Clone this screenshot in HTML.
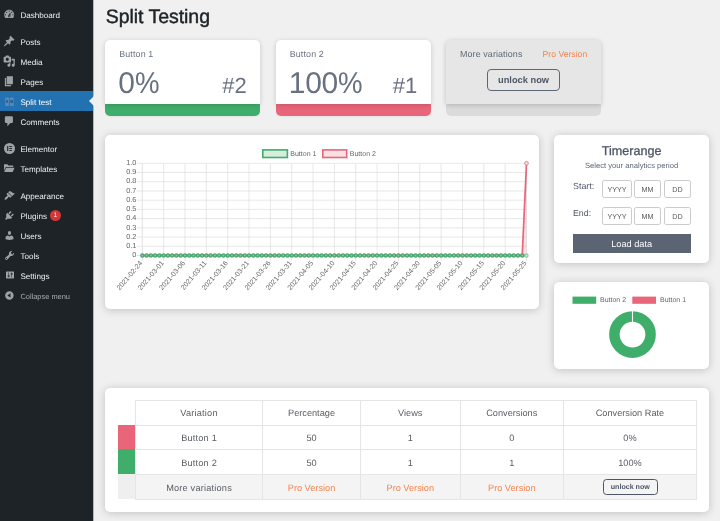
<!DOCTYPE html>
<html lang="en"><head><meta charset="utf-8"><title>Split Testing</title>
<style>
html,body{margin:0;padding:0}
body{width:720px;height:521px;overflow:hidden;background:#f0f0f1;position:relative;font-family:"Liberation Sans",Arial,sans-serif;color:#3c434a;text-rendering:geometricPrecision}
#side{position:absolute;left:0;top:0;width:93px;height:521px;background:#1d2327;border-right:1px solid #b4b5b7}
.mi{position:absolute;left:0;width:93px;height:20px;color:#f0f0f1;font-size:8.1px;line-height:20px;white-space:nowrap}
.mi .ic{position:absolute;left:3.2px;top:3.8px}
.mi .ml{position:absolute;left:20.4px;top:1.8px}
.mi.act{background:#2271b1;color:#fff;top:90.9px!important;height:20.2px}
.mi.act:after{content:"";position:absolute;right:-1px;top:5.2px;border:5px solid transparent;border-right-color:#f0f0f1;border-left-width:0}
.mi.col{color:#a7aaad;font-size:7.45px}
.badge{position:absolute;left:49.8px;top:5px;width:11.2px;height:11.2px;border-radius:50%;background:#d63638;color:#fff;font-size:6.5px;line-height:12.2px;text-align:center}
h1{position:absolute;left:105.7px;top:3.6px;margin:0;font-size:19.5px;line-height:26px;font-weight:400;color:#1d2327;white-space:nowrap;letter-spacing:-0.04px;-webkit-text-stroke:0.45px #1d2327}
.card{position:absolute;background:#fff;border-radius:5px;box-shadow:0 1px 8.5px rgba(0,0,0,.2);overflow:hidden}
.stat{width:154.8px;height:76.2px;top:39.5px;background:none;box-shadow:none;overflow:visible}
.stat .wt{position:absolute;left:0;right:0;top:0;height:64.5px;background:#fff;border-radius:5px 5px 0 0;box-shadow:0 1px 5px rgba(0,0,0,.17)}
.stat .lb{position:absolute;left:13.8px;top:9.3px;font-size:8.9px;line-height:11px;color:#6b7483;letter-spacing:.15px}
.stat .big{position:absolute;left:12.9px;top:26.6px;font-size:30px;line-height:36px;color:#677181;letter-spacing:-0.3px;white-space:nowrap}
.stat .big i{font-style:normal;display:inline-block;transform:scaleX(.92);transform-origin:0 50%;letter-spacing:0}
.stat .rk{position:absolute;right:13.4px;top:33.4px;font-size:22px;line-height:26px;color:#677181;white-space:nowrap}
.stat .bar{position:absolute;left:0;right:0;bottom:0;height:16px;border-radius:0 0 5px 5px;box-shadow:0 1px 2px rgba(0,0,0,.05)}
.tbl{position:absolute;left:117.6px;top:400.3px;border-collapse:collapse;font-size:8.5px;color:#555d66}
</style></head><body>
<div id="side">
<div class="mi" style="top:4.4px"><svg class="ic" style="left:3.20px;top:3.80px" width="12.4" height="12.4" viewBox="0 0 20 20"><path fill="#9ca2a7" fill-rule="evenodd" d="M3.76 16h12.48c1.1-1.37 1.76-3.11 1.76-5 0-4.42-3.58-8-8-8s-8 3.58-8 8c0 1.89.66 3.63 1.76 5zM10 4c.55 0 1 .45 1 1s-.45 1-1 1-1-.45-1-1 .45-1 1-1zM6 6c.55 0 1 .45 1 1s-.45 1-1 1-1-.45-1-1 .45-1 1-1zm8 0c.55 0 1 .45 1 1s-.45 1-1 1-1-.45-1-1 .45-1 1-1zm-5.37 5.55L12 7v6c0 1.1-.9 2-2 2s-2-.9-2-2c0-.57.24-1.08.63-1.45zM4 10c.55 0 1 .45 1 1s-.45 1-1 1-1-.45-1-1 .45-1 1-1zm12 0c.55 0 1 .45 1 1s-.45 1-1 1-1-.45-1-1 .45-1 1-1zm-5 3c0-.55-.45-1-1-1s-1 .45-1 1 .45 1 1 1 1-.45 1-1z"/></svg><span class="ml">Dashboard</span></div>
<div class="mi" style="top:31.3px"><svg class="ic" style="left:3.20px;top:3.80px" width="12.4" height="12.4" viewBox="0 0 20 20"><path fill="#9ca2a7" fill-rule="evenodd" d="M10.44 3.02l1.82-1.82 6.36 6.35-1.83 1.82c-1.05-.68-2.48-.57-3.41.36l-.75.75c-.92.93-1.04 2.35-.35 3.41l-1.83 1.82-2.41-2.41-2.8 2.79c-.42.42-3.38 2.71-3.8 2.29s1.86-3.39 2.28-3.81l2.79-2.79L4.1 9.36l1.83-1.82c1.05.69 2.48.57 3.4-.36l.75-.75c.93-.92 1.05-2.35.36-3.41z"/></svg><span class="ml">Posts</span></div>
<div class="mi" style="top:51.3px"><svg class="ic" style="left:3.20px;top:3.80px" width="12.4" height="12.4" viewBox="0 0 20 20"><path fill="#9ca2a7" fill-rule="evenodd" d="M13 11V4c0-.55-.45-1-1-1h-1.670L9 1H5L3.670 3H2c-.55 0-1 .45-1 1v7c0 .55.45 1 1 1h10c.55 0 1-.45 1-1zM7 4.500c1.380 0 2.500 1.120 2.500 2.500S8.380 9.500 7 9.500 4.500 8.380 4.500 7 5.620 4.500 7 4.500zM14 6h5v10.500c0 1.380-1.120 2.500-2.500 2.500S14 17.880 14 16.500s1.120-2.500 2.500-2.500c.170 0 .340.020.500.050V9h-3V6zm-4 8.050V13h2v3.500c0 1.380-1.120 2.500-2.500 2.500S7 17.880 7 16.500 8.120 14 9.500 14c.170 0 .340.020.500.050z"/></svg><span class="ml">Media</span></div>
<div class="mi" style="top:71.3px"><svg class="ic" style="left:3.20px;top:3.80px" width="12.4" height="12.4" viewBox="0 0 20 20"><path fill="#9ca2a7" fill-rule="evenodd" d="M6 15V2h10v13H6zm-1 1h8v2H3V5h2v11z"/></svg><span class="ml">Pages</span></div>
<div class="mi act" style="top:91.3px"><svg class="ic" width="12.4" height="12.4" viewBox="0 0 20 20"><rect x="3.4" y="3.9" width="6.3" height="13.9" rx="1.2" fill="#5289c1"/><rect x="10.9" y="3.9" width="6.3" height="13.9" rx="1.2" fill="#5289c1"/><text x="6.55" y="13.3" font-size="6.8" font-family="Liberation Sans, sans-serif" font-weight="bold" text-anchor="middle" fill="#1f4a73">A</text><text x="14.05" y="13.3" font-size="6.8" font-family="Liberation Sans, sans-serif" font-weight="bold" text-anchor="middle" fill="#1f4a73">B</text></svg><span class="ml">Split test</span></div>
<div class="mi" style="top:111.3px"><svg class="ic" style="left:3.20px;top:3.80px" width="12.4" height="12.4" viewBox="0 0 20 20"><path fill="#9ca2a7" fill-rule="evenodd" d="M5 2h9c1.100 0 2 .900 2 2v7c0 1.100-.900 2-2 2h-2l-5 5v-5H5c-1.100 0-2-.900-2-2V4c0-1.100.900-2 2-2z"/></svg><span class="ml">Comments</span></div>
<div class="mi" style="top:138.3px"><svg class="ic" style="left:2.90px;top:3.30px" width="13" height="13" viewBox="0 0 20 20"><path fill="#9ca2a7" fill-rule="evenodd" d="M10 1.500a8.500 8.500 0 1 0 0 17 8.500 8.500 0 0 0 0-17zM8.100 13.900H6.400V6.100h1.700v7.800zm5.500 0H9.800v-1.600h3.800v1.600zm0-3.100H9.800V9.200h3.800v1.600zm0-3.100H9.800V6.100h3.800v1.600z"/></svg><span class="ml">Elementor</span></div>
<div class="mi" style="top:158.3px"><svg class="ic" style="left:3.20px;top:3.80px" width="12.4" height="12.4" viewBox="0 0 20 20"><path fill="#9ca2a7" fill-rule="evenodd" d="M1.600 3.500h5.600l1.600 2h7.600v2.700H4.300L1.600 14.500zM5 9.400h13.600l-3 6.600H2z"/></svg><span class="ml">Templates</span></div>
<div class="mi" style="top:185.3px"><svg class="ic" style="left:3.80px;top:4.40px" width="11.2" height="11.2" viewBox="0 0 20 20"><path fill="#9ca2a7" fill-rule="evenodd" d="M14.480 11.060L7.410 3.990l1.500-1.500c.500-.560 2.300-.470 3.510.320 1.210.800 1.430 1.280 2.910 2.100 1.180.640 2.450 1.260 4.450.850zm-.710.710L6.700 4.700 4.930 6.470c-.390.390-.390 1.020 0 1.410l1.060 1.060c.390.390.390 1.030 0 1.420-.600.600-1.430 1.110-2.210 1.690-.350.260-.700.530-1.010.840C1.430 14.230.400 16.080 1.400 17.070c.990 1 2.840-.030 4.180-1.360.310-.310.580-.660.850-1.020.570-.780 1.080-1.610 1.690-2.210.390-.390 1.020-.390 1.410 0l1.060 1.060c.390.390 1.020.390 1.410 0z"/></svg><span class="ml">Appearance</span></div>
<div class="mi" style="top:205.3px"><svg class="ic" style="left:3.90px;top:4.50px" width="11" height="11" viewBox="0 0 20 20"><path fill="#9ca2a7" fill-rule="evenodd" d="M13.110 4.360L9.870 7.600 8 5.730l3.240-3.240c.350-.340 1.050-.200 1.560.320.520.510.660 1.210.310 1.550zm-8 1.770l.910-1.120 9.010 9.010-1.190.840c-.710.710-2.630 1.160-3.820 1.160H6.140L4.900 17.260c-.590.590-1.540.590-2.120 0-.590-.580-.590-1.530 0-2.120L4 13.900V10c0-1.190.440-3.160 1.110-3.870zm7.260 3.970l3.240-3.240c.340-.350 1.040-.210 1.550.310.520.510.660 1.210.310 1.550l-3.240 3.250z"/></svg><span class="ml">Plugins</span><span class="badge">1</span></div>
<div class="mi" style="top:225.3px"><svg class="ic" style="left:3.90px;top:4.50px" width="11" height="11" viewBox="0 0 20 20"><path fill="#9ca2a7" fill-rule="evenodd" d="M10 9.250c-2.270 0-2.730-3.440-2.730-3.440C7 4.020 7.820 2 9.970 2c2.160 0 2.980 2.020 2.710 3.810 0 0-.410 3.440-2.680 3.440zm0 2.570L12.720 10c2.390 0 4.520 2.330 4.520 4.530v2.490s-3.650 1.130-7.240 1.130c-3.650 0-7.240-1.130-7.240-1.130v-2.490c0-2.250 1.940-4.480 4.470-4.480z"/></svg><span class="ml">Users</span></div>
<div class="mi" style="top:245.3px"><svg class="ic" style="left:3.90px;top:4.50px" width="11" height="11" viewBox="0 0 20 20"><path fill="#9ca2a7" fill-rule="evenodd" d="M16.680 9.770c-1.340 1.340-3.300 1.670-4.950.990l-5.410 6.520c-.990.990-2.590.990-3.580 0s-.990-2.590 0-3.570l6.520-5.420c-.680-1.650-.350-3.610.990-4.950 1.280-1.280 3.120-1.620 4.720-1.060l-2.890 2.890 2.820 2.820 2.860-2.870c.530 1.580.180 3.390-1.080 4.650zM3.810 16.210c.400.390 1.040.390 1.430 0 .400-.400.400-1.040 0-1.430-.390-.400-1.030-.400-1.430 0-.390.390-.390 1.030 0 1.430z"/></svg><span class="ml">Tools</span></div>
<div class="mi" style="top:265.3px"><svg class="ic" style="left:4.90px;top:5.00px" width="10" height="10" viewBox="0 0 20 20"><path fill="#9ca2a7" fill-rule="evenodd" d="M18 16V4c0-.550-.450-1-1-1H3c-.550 0-1 .450-1 1v12c0 .550.450 1 1 1h14c.550 0 1-.450 1-1zM8 11h1c.550 0 1 .450 1 1s-.450 1-1 1H8v1.500c0 .280-.220.500-.500.500s-.500-.220-.500-.500V13H6c-.550 0-1-.450-1-1s.450-1 1-1h1V5.500c0-.280.220-.500.500-.500s.500.220.500.500V11zm5-2h-1c-.550 0-1-.450-1-1s.450-1 1-1h1V5.500c0-.280.220-.500.500-.500s.500.220.500.500V7h1c.550 0 1 .450 1 1s-.450 1-1 1h-1v5.500c0 .280-.220.500-.500.500s-.500-.220-.500-.500V9z"/></svg><span class="ml">Settings</span></div>
<div class="mi col" style="top:285.3px"><svg class="ic" style="left:4.00px;top:4.60px" width="10.8" height="10.8" viewBox="0 0 20 20"><path fill="#9ca2a7" fill-rule="evenodd" d="M10 2.160c4.330 0 7.840 3.510 7.840 7.840s-3.510 7.840-7.840 7.840S2.160 14.330 2.160 10 5.670 2.160 10 2.160zm2 11.720V6.120L6.180 9.970z"/></svg><span class="ml">Collapse menu</span></div>
</div>
<h1>Split Testing</h1>

<div class="card stat" style="left:105.4px"><div class="bar" style="background:#3fae6b"></div><div class="wt"></div><div class="lb">Button 1</div><div class="big">0<i>%</i></div><div class="rk">#2</div></div>
<div class="card stat" style="left:275.9px"><div class="bar" style="background:#e8657a"></div><div class="wt"></div><div class="lb">Button 2</div><div class="big">100<i>%</i></div><div class="rk">#1</div></div>

<div class="card" style="left:446px;top:39.5px;width:155px;height:76.2px;background:none;box-shadow:none;overflow:visible">
 <div style="position:absolute;left:0;right:0;bottom:0;height:16px;background:#dbdbdb;border-radius:0 0 5px 5px"></div>
 <div style="position:absolute;left:0;top:0;right:0;height:64.5px;background:#e6e6e6;border-radius:5px 5px 0 0;box-shadow:0 1px 5px rgba(0,0,0,.2)"></div>
 <div style="position:absolute;left:14px;top:9px;font-size:8.9px;line-height:11px;color:#5d6777;letter-spacing:.12px">More variations</div>
 <div style="position:absolute;left:96.6px;top:9px;font-size:8.65px;line-height:11px;color:#f5844f">Pro Version</div>
 <div style="position:absolute;left:41.3px;top:29.2px;width:70.5px;height:20px;border:1px solid #5d6777;border-radius:4px;font-size:9.3px;line-height:20px;font-weight:bold;color:#4d5666;text-align:center">unlock now</div>
</div>

<div class="card" style="left:105px;top:135px;width:434px;height:174px"></div>
<svg class="chart" width="434" height="174" viewBox="105 135 434 174" style="position:absolute;left:105px;top:135px">
<line x1="142.30" y1="163.3" x2="142.30" y2="261.00" stroke="#cccccc" stroke-width="0.6"/><line x1="163.65" y1="163.3" x2="163.65" y2="261.00" stroke="#d9d9d9" stroke-width="0.6"/><line x1="184.99" y1="163.3" x2="184.99" y2="261.00" stroke="#d9d9d9" stroke-width="0.6"/><line x1="206.34" y1="163.3" x2="206.34" y2="261.00" stroke="#d9d9d9" stroke-width="0.6"/><line x1="227.68" y1="163.3" x2="227.68" y2="261.00" stroke="#d9d9d9" stroke-width="0.6"/><line x1="249.03" y1="163.3" x2="249.03" y2="261.00" stroke="#d9d9d9" stroke-width="0.6"/><line x1="270.37" y1="163.3" x2="270.37" y2="261.00" stroke="#d9d9d9" stroke-width="0.6"/><line x1="291.72" y1="163.3" x2="291.72" y2="261.00" stroke="#d9d9d9" stroke-width="0.6"/><line x1="313.06" y1="163.3" x2="313.06" y2="261.00" stroke="#d9d9d9" stroke-width="0.6"/><line x1="334.40" y1="163.3" x2="334.40" y2="261.00" stroke="#d9d9d9" stroke-width="0.6"/><line x1="355.75" y1="163.3" x2="355.75" y2="261.00" stroke="#d9d9d9" stroke-width="0.6"/><line x1="377.10" y1="163.3" x2="377.10" y2="261.00" stroke="#d9d9d9" stroke-width="0.6"/><line x1="398.44" y1="163.3" x2="398.44" y2="261.00" stroke="#d9d9d9" stroke-width="0.6"/><line x1="419.79" y1="163.3" x2="419.79" y2="261.00" stroke="#d9d9d9" stroke-width="0.6"/><line x1="441.13" y1="163.3" x2="441.13" y2="261.00" stroke="#d9d9d9" stroke-width="0.6"/><line x1="462.47" y1="163.3" x2="462.47" y2="261.00" stroke="#d9d9d9" stroke-width="0.6"/><line x1="483.82" y1="163.3" x2="483.82" y2="261.00" stroke="#d9d9d9" stroke-width="0.6"/><line x1="505.17" y1="163.3" x2="505.17" y2="261.00" stroke="#d9d9d9" stroke-width="0.6"/><line x1="526.51" y1="163.3" x2="526.51" y2="261.00" stroke="#d9d9d9" stroke-width="0.6"/><line x1="136.80" y1="255.50" x2="526.51" y2="255.50" stroke="#cccccc" stroke-width="0.6"/><line x1="136.80" y1="246.28" x2="526.51" y2="246.28" stroke="#d9d9d9" stroke-width="0.6"/><line x1="136.80" y1="237.06" x2="526.51" y2="237.06" stroke="#d9d9d9" stroke-width="0.6"/><line x1="136.80" y1="227.84" x2="526.51" y2="227.84" stroke="#d9d9d9" stroke-width="0.6"/><line x1="136.80" y1="218.62" x2="526.51" y2="218.62" stroke="#d9d9d9" stroke-width="0.6"/><line x1="136.80" y1="209.40" x2="526.51" y2="209.40" stroke="#d9d9d9" stroke-width="0.6"/><line x1="136.80" y1="200.18" x2="526.51" y2="200.18" stroke="#d9d9d9" stroke-width="0.6"/><line x1="136.80" y1="190.96" x2="526.51" y2="190.96" stroke="#d9d9d9" stroke-width="0.6"/><line x1="136.80" y1="181.74" x2="526.51" y2="181.74" stroke="#d9d9d9" stroke-width="0.6"/><line x1="136.80" y1="172.52" x2="526.51" y2="172.52" stroke="#d9d9d9" stroke-width="0.6"/><line x1="136.80" y1="163.30" x2="526.51" y2="163.30" stroke="#d9d9d9" stroke-width="0.6"/>
<g font-size="7.3" fill="#666" font-family="Liberation Sans, Arial, sans-serif"><text x="136.4" y="257.20" text-anchor="end">0</text><text x="136.4" y="247.98" text-anchor="end">0.1</text><text x="136.4" y="238.76" text-anchor="end">0.2</text><text x="136.4" y="229.54" text-anchor="end">0.3</text><text x="136.4" y="220.32" text-anchor="end">0.4</text><text x="136.4" y="211.10" text-anchor="end">0.5</text><text x="136.4" y="201.88" text-anchor="end">0.6</text><text x="136.4" y="192.66" text-anchor="end">0.7</text><text x="136.4" y="183.44" text-anchor="end">0.8</text><text x="136.4" y="174.22" text-anchor="end">0.9</text><text x="136.4" y="165.00" text-anchor="end">1.0</text></g>
<g font-size="7.0" fill="#666" font-family="Liberation Sans, Arial, sans-serif"><text transform="translate(141.00,261.70) rotate(-49.5)" text-anchor="end" y="2.5">2021-02-24</text><text transform="translate(162.34,261.70) rotate(-49.5)" text-anchor="end" y="2.5">2021-03-01</text><text transform="translate(183.69,261.70) rotate(-49.5)" text-anchor="end" y="2.5">2021-03-06</text><text transform="translate(205.03,261.70) rotate(-49.5)" text-anchor="end" y="2.5">2021-03-11</text><text transform="translate(226.38,261.70) rotate(-49.5)" text-anchor="end" y="2.5">2021-03-16</text><text transform="translate(247.72,261.70) rotate(-49.5)" text-anchor="end" y="2.5">2021-03-21</text><text transform="translate(269.07,261.70) rotate(-49.5)" text-anchor="end" y="2.5">2021-03-26</text><text transform="translate(290.42,261.70) rotate(-49.5)" text-anchor="end" y="2.5">2021-03-31</text><text transform="translate(311.76,261.70) rotate(-49.5)" text-anchor="end" y="2.5">2021-04-05</text><text transform="translate(333.10,261.70) rotate(-49.5)" text-anchor="end" y="2.5">2021-04-10</text><text transform="translate(354.45,261.70) rotate(-49.5)" text-anchor="end" y="2.5">2021-04-15</text><text transform="translate(375.80,261.70) rotate(-49.5)" text-anchor="end" y="2.5">2021-04-20</text><text transform="translate(397.14,261.70) rotate(-49.5)" text-anchor="end" y="2.5">2021-04-25</text><text transform="translate(418.49,261.70) rotate(-49.5)" text-anchor="end" y="2.5">2021-04-30</text><text transform="translate(439.83,261.70) rotate(-49.5)" text-anchor="end" y="2.5">2021-05-05</text><text transform="translate(461.17,261.70) rotate(-49.5)" text-anchor="end" y="2.5">2021-05-10</text><text transform="translate(482.52,261.70) rotate(-49.5)" text-anchor="end" y="2.5">2021-05-15</text><text transform="translate(503.87,261.70) rotate(-49.5)" text-anchor="end" y="2.5">2021-05-20</text><text transform="translate(525.21,261.70) rotate(-49.5)" text-anchor="end" y="2.5">2021-05-25</text></g>
<path d="M142.30 255.5 L522.24 255.5 L526.51 163.3 L526.51 255.5 Z" fill="rgba(232,103,122,0.2)"/>
<path d="M142.30 255.5 L522.24 255.5 L526.51 163.3" fill="none" stroke="#e8657a" stroke-width="1.7" stroke-linejoin="round"/>
<circle cx="526.51" cy="163.3" r="1.9" fill="#f7d5da" stroke="#e8657a" stroke-width="0.7"/>
<path d="M142.30 255.5 L526.51 255.5" fill="none" stroke="#45a76e" stroke-width="2.0"/>
<g fill="#9fb8a9" stroke="#45a76e" stroke-width="1.15"><circle cx="142.30" cy="255.5" r="1.6"/><circle cx="146.57" cy="255.5" r="1.6"/><circle cx="150.84" cy="255.5" r="1.6"/><circle cx="155.11" cy="255.5" r="1.6"/><circle cx="159.38" cy="255.5" r="1.6"/><circle cx="163.65" cy="255.5" r="1.6"/><circle cx="167.91" cy="255.5" r="1.6"/><circle cx="172.18" cy="255.5" r="1.6"/><circle cx="176.45" cy="255.5" r="1.6"/><circle cx="180.72" cy="255.5" r="1.6"/><circle cx="184.99" cy="255.5" r="1.6"/><circle cx="189.26" cy="255.5" r="1.6"/><circle cx="193.53" cy="255.5" r="1.6"/><circle cx="197.80" cy="255.5" r="1.6"/><circle cx="202.07" cy="255.5" r="1.6"/><circle cx="206.34" cy="255.5" r="1.6"/><circle cx="210.60" cy="255.5" r="1.6"/><circle cx="214.87" cy="255.5" r="1.6"/><circle cx="219.14" cy="255.5" r="1.6"/><circle cx="223.41" cy="255.5" r="1.6"/><circle cx="227.68" cy="255.5" r="1.6"/><circle cx="231.95" cy="255.5" r="1.6"/><circle cx="236.22" cy="255.5" r="1.6"/><circle cx="240.49" cy="255.5" r="1.6"/><circle cx="244.76" cy="255.5" r="1.6"/><circle cx="249.03" cy="255.5" r="1.6"/><circle cx="253.29" cy="255.5" r="1.6"/><circle cx="257.56" cy="255.5" r="1.6"/><circle cx="261.83" cy="255.5" r="1.6"/><circle cx="266.10" cy="255.5" r="1.6"/><circle cx="270.37" cy="255.5" r="1.6"/><circle cx="274.64" cy="255.5" r="1.6"/><circle cx="278.91" cy="255.5" r="1.6"/><circle cx="283.18" cy="255.5" r="1.6"/><circle cx="287.45" cy="255.5" r="1.6"/><circle cx="291.72" cy="255.5" r="1.6"/><circle cx="295.98" cy="255.5" r="1.6"/><circle cx="300.25" cy="255.5" r="1.6"/><circle cx="304.52" cy="255.5" r="1.6"/><circle cx="308.79" cy="255.5" r="1.6"/><circle cx="313.06" cy="255.5" r="1.6"/><circle cx="317.33" cy="255.5" r="1.6"/><circle cx="321.60" cy="255.5" r="1.6"/><circle cx="325.87" cy="255.5" r="1.6"/><circle cx="330.14" cy="255.5" r="1.6"/><circle cx="334.41" cy="255.5" r="1.6"/><circle cx="338.67" cy="255.5" r="1.6"/><circle cx="342.94" cy="255.5" r="1.6"/><circle cx="347.21" cy="255.5" r="1.6"/><circle cx="351.48" cy="255.5" r="1.6"/><circle cx="355.75" cy="255.5" r="1.6"/><circle cx="360.02" cy="255.5" r="1.6"/><circle cx="364.29" cy="255.5" r="1.6"/><circle cx="368.56" cy="255.5" r="1.6"/><circle cx="372.83" cy="255.5" r="1.6"/><circle cx="377.10" cy="255.5" r="1.6"/><circle cx="381.36" cy="255.5" r="1.6"/><circle cx="385.63" cy="255.5" r="1.6"/><circle cx="389.90" cy="255.5" r="1.6"/><circle cx="394.17" cy="255.5" r="1.6"/><circle cx="398.44" cy="255.5" r="1.6"/><circle cx="402.71" cy="255.5" r="1.6"/><circle cx="406.98" cy="255.5" r="1.6"/><circle cx="411.25" cy="255.5" r="1.6"/><circle cx="415.52" cy="255.5" r="1.6"/><circle cx="419.79" cy="255.5" r="1.6"/><circle cx="424.05" cy="255.5" r="1.6"/><circle cx="428.32" cy="255.5" r="1.6"/><circle cx="432.59" cy="255.5" r="1.6"/><circle cx="436.86" cy="255.5" r="1.6"/><circle cx="441.13" cy="255.5" r="1.6"/><circle cx="445.40" cy="255.5" r="1.6"/><circle cx="449.67" cy="255.5" r="1.6"/><circle cx="453.94" cy="255.5" r="1.6"/><circle cx="458.21" cy="255.5" r="1.6"/><circle cx="462.48" cy="255.5" r="1.6"/><circle cx="466.74" cy="255.5" r="1.6"/><circle cx="471.01" cy="255.5" r="1.6"/><circle cx="475.28" cy="255.5" r="1.6"/><circle cx="479.55" cy="255.5" r="1.6"/><circle cx="483.82" cy="255.5" r="1.6"/><circle cx="488.09" cy="255.5" r="1.6"/><circle cx="492.36" cy="255.5" r="1.6"/><circle cx="496.63" cy="255.5" r="1.6"/><circle cx="500.90" cy="255.5" r="1.6"/><circle cx="505.17" cy="255.5" r="1.6"/><circle cx="509.43" cy="255.5" r="1.6"/><circle cx="513.70" cy="255.5" r="1.6"/><circle cx="517.97" cy="255.5" r="1.6"/><circle cx="522.24" cy="255.5" r="1.6"/><circle cx="526.51" cy="255.5" r="1.6" fill="#cfe6d8" stroke="#8ccaa6"/></g>
<rect x="262.8" y="149.9" width="24.6" height="7.6" fill="#d6ecdf" stroke="#3fae6b" stroke-width="1.6"/>
<rect x="322.8" y="149.9" width="23.9" height="7.6" fill="#fae0e4" stroke="#e8657a" stroke-width="1.6"/>
<g font-size="7" fill="#666" font-family="Liberation Sans, Arial, sans-serif"><text x="290.3" y="156.2">Button 1</text><text x="349.8" y="156.2">Button 2</text></g>
</svg>

<div class="card" style="left:554px;top:135px;width:155.2px;height:127.5px">
 <div style="position:absolute;left:0;right:0;top:8px;text-align:center;font-size:12.6px;line-height:17px;color:#4d5666;-webkit-text-stroke:0.3px #4d5666">Timerange</div>
 <div style="position:absolute;left:0;right:0;top:25.8px;text-align:center;font-size:7.65px;line-height:10px;color:#5d6777">Select your analytics period</div>
 <div style="position:absolute;left:19px;top:45.8px;font-size:8.9px;line-height:11px;color:#4d5666">Start:</div>
 <div class="inp" style="left:48.4px;top:44.6px;width:29.3px">YYYY</div>
 <div class="inp" style="left:80px;top:44.6px;width:27px">MM</div>
 <div class="inp" style="left:110px;top:44.6px;width:27px">DD</div>
 <div style="position:absolute;left:19px;top:73.2px;font-size:8.8px;line-height:11px;color:#4d5666">End:</div>
 <div class="inp" style="left:48.4px;top:72.2px;width:29.3px">YYYY</div>
 <div class="inp" style="left:80px;top:72.2px;width:27px">MM</div>
 <div class="inp" style="left:110px;top:72.2px;width:27px">DD</div>
 <div style="position:absolute;left:18.8px;top:99px;width:117.8px;height:19px;background:#5a6473;color:#fff;font-size:9.2px;line-height:20.6px;text-align:center">Load data</div>
</div>
<style>
.inp{position:absolute;height:18px;border:0.7px solid #cbcbcb;border-radius:2.3px;font-size:7.2px;line-height:17px;text-align:center;color:#5a5a5a;background:#fff;box-sizing:border-box}
</style>

<div class="card" style="left:554.2px;top:281.8px;width:155px;height:87px"></div>
<svg width="155" height="87" viewBox="554 282 155 87" style="position:absolute;left:554px;top:282px">
<rect x="572.5" y="296.6" width="23.7" height="7.2" fill="#3fae6b"/>
<rect x="632.3" y="296.6" width="23.7" height="7.2" fill="#e8657a"/>
<g font-size="7" fill="#666" font-family="Liberation Sans, Arial, sans-serif"><text x="600" y="302.4">Button 2</text><text x="660" y="302.4">Button 1</text></g>
<circle cx="632.5" cy="334.6" r="18.1" fill="none" stroke="#3fae6b" stroke-width="10.5"/>
<line x1="632.5" y1="310.5" x2="632.5" y2="323" stroke="#fff" stroke-width="1.1"/>
</svg>

<div class="card" style="left:105px;top:388px;width:604.2px;height:124px"></div>
<div id="tb">
 <div class="sw" style="top:424.7px;background:#e8657a"></div>
 <div class="sw" style="top:449.3px;background:#3fae6b"></div>
 <div class="sw" style="top:474px;background:#efefef;height:25.2px"></div>
 <div class="rowbg"></div>
 <div class="hl" style="top:400.3px"></div><div class="hl" style="top:424.7px"></div><div class="hl" style="top:449.3px"></div><div class="hl" style="top:474px"></div><div class="hl" style="top:499.2px"></div>
 <div class="vl" style="left:135.2px"></div><div class="vl" style="left:262.2px"></div><div class="vl" style="left:360.2px"></div><div class="vl" style="left:459.7px"></div><div class="vl" style="left:563.2px"></div><div class="vl" style="left:696.2px"></div>
 <div class="r" style="top:400.3px"><span class="c c1">Variation</span><span class="c c2">Percentage</span><span class="c c3">Views</span><span class="c c4">Conversions</span><span class="c c5">Conversion Rate</span></div>
 <div class="r" style="top:424.9px"><span class="c c1">Button 1</span><span class="c c2">50</span><span class="c c3">1</span><span class="c c4">0</span><span class="c c5">0%</span></div>
 <div class="r" style="top:449.5px"><span class="c c1">Button 2</span><span class="c c2">50</span><span class="c c3">1</span><span class="c c4">1</span><span class="c c5">100%</span></div>
 <div class="r pro" style="top:474.5px"><span class="c c1" style="color:#585c62">More variations</span><span class="c c2">Pro Version</span><span class="c c3">Pro Version</span><span class="c c4">Pro Version</span><span class="c c5"></span></div>
 <div class="ub">unlock now</div>
</div>
<style>
.sw{position:absolute;left:117.6px;width:17.8px;height:24.6px}
.rowbg{position:absolute;left:135.6px;top:474px;width:560.8px;height:25.2px;background:#f4f4f4}
.hl{position:absolute;left:135.2px;width:561.2px;height:0.7px;background:#e5e5e5}
.vl{position:absolute;top:400.3px;width:0.7px;height:99.4px;background:#e5e5e5}
.r{position:absolute;left:0;height:24.6px;line-height:27.2px;font-size:9.2px;color:#585c62;white-space:nowrap}
.r .c{position:absolute;top:0;text-align:center}
.c1{left:135.6px;width:126.9px;letter-spacing:.2px}.c2{left:262.5px;width:98px}.c3{left:360.5px;width:99.5px}.c4{left:460px;width:103.5px}.c5{left:563.5px;width:132.9px}
.pro .c{color:#f5844f}
.ub{position:absolute;left:602.9px;top:479.4px;width:54.8px;height:15.4px;box-sizing:border-box;line-height:15.2px;border:0.8px solid #4d5666;border-radius:3.5px;font-size:7.1px;font-weight:bold;color:#4d5666;text-align:center;white-space:nowrap}
</style>
</body></html>
